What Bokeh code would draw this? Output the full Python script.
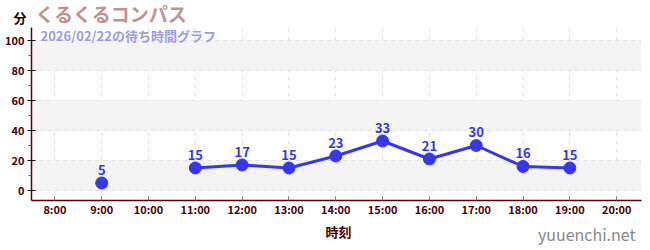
import math
from bokeh.plotting import figure
from bokeh.layouts import column
from bokeh.models import ColumnDataSource, Label, LabelSet, FixedTicker, Range1d, Grid
from bokeh.core.properties import value
from bokeh.embed import file_html
from bokeh.resources import INLINE

title_text = "くるくるコンパス"
subtitle_text = "2026/02/22の待ち時間グラフ"
y_unit = "分"
x_label = "時刻"
watermark = "yuuenchi.net"

hours = [9, 10, 11, 12, 13, 14, 15, 16, 17, 18, 19]
waits = [5, float("nan"), 15, 17, 15, 23, 33, 21, 30, 16, 15]
x_ticks = list(range(8, 21))
x_tick_labels = {h: f"{h}:00" for h in x_ticks}
y_ticks = [0, 20, 40, 60, 80, 100]
y_minor = [10, 30, 50, 70, 90]
band_edges = [20, 40, 60, 80]

FONT = "Noto Sans CJK JP"
AXIS = "#5a0000"
BLUE = "#3535f5"
W = 650
LEFT, RIGHT = 31, 9
TOP_H, MAIN_H, BOT_H = 27, 196, 27


def strip(h):
    f = figure(width=W, height=h, output_backend="svg", toolbar_location=None,
               x_axis_type=None, y_axis_type=None, x_range=Range1d(0, 1), y_range=Range1d(0, 1),
               min_border_left=LEFT, min_border_right=RIGHT, min_border_top=0, min_border_bottom=0)
    f.outline_line_color = None
    f.xgrid.visible = False
    f.ygrid.visible = False
    f.background_fill_color = "white"
    f.border_fill_color = "white"
    return f


def lab(f, text, x, y, size, color, align="left", bold=True, side=None):
    l = Label(x=x, y=y, x_units="screen", y_units="screen", text=text,
              text_font=FONT, text_font_style="bold" if bold else "normal",
              text_font_size=size, text_color=color, text_align=align,
              text_baseline="middle")
    if side:
        f.add_layout(l, side)
    else:
        f.add_layout(l)


# ---- top strip (title, unit) ; frame spans x 31..641 ----
top = strip(TOP_H)
lab(top, title_text, 35 - LEFT, TOP_H - 13, "19px", "#c49090")
lab(top, y_unit, 8, TOP_H - 17, "13px", "#2a0000", align="right", side="left")

# ---- main chart ----
p = figure(width=W, height=MAIN_H, output_backend="svg", toolbar_location=None,
           x_range=Range1d(7.5, 20.53), y_range=Range1d(-6.67, 108.67),
           min_border_left=LEFT, min_border_right=RIGHT, min_border_top=0, min_border_bottom=23)
p.outline_line_color = None
p.background_fill_color = "white"
p.border_fill_color = "white"

band = Grid(dimension=1, ticker=FixedTicker(ticks=band_edges), grid_line_color=None,
            band_fill_color="#f4f4f4", band_fill_alpha=1.0)
p.add_layout(band)

p.xgrid.ticker = FixedTicker(ticks=x_ticks)
p.ygrid.ticker = FixedTicker(ticks=y_ticks)
for g in (p.xgrid, p.ygrid):
    g.grid_line_color = "#e2e2e2"
    g.grid_line_dash = "4 4"
    g.grid_line_width = 1

ya = p.yaxis[0]
ya.ticker = FixedTicker(ticks=y_ticks, minor_ticks=y_minor)
ya.axis_line_color = AXIS
ya.axis_line_width = 1.5
ya.major_tick_line_color = "#111111"
ya.major_tick_in = 4
ya.major_tick_out = 4
ya.minor_tick_line_color = "#dd2222"
ya.minor_tick_in = 0
ya.minor_tick_out = 3
ya.major_label_text_font = FONT
ya.major_label_text_font_style = "bold"
ya.major_label_text_font_size = "11px"
ya.major_label_text_color = "#4a0000"
ya.major_label_standoff = 3

xa = p.xaxis[0]
xa.ticker = FixedTicker(ticks=x_ticks)
xa.major_label_overrides = x_tick_labels
xa.axis_line_color = AXIS
xa.axis_line_width = 1.5
xa.major_tick_line_color = "#777777"
xa.major_tick_in = 4
xa.major_tick_out = 0
xa.minor_tick_line_color = None
xa.major_label_text_font = FONT
xa.major_label_text_font_style = "bold"
xa.major_label_text_font_size = "11px"
xa.major_label_text_color = "#4a0000"
xa.major_label_standoff = 0

src = ColumnDataSource(dict(x=hours, y=waits))
pts = ColumnDataSource(dict(x=[h for h, v in zip(hours, waits) if not math.isnan(v)],
                            y=[v for v in waits if not math.isnan(v)],
                            t=[str(int(v)) for v in waits if not math.isnan(v)]))

p.line("x", "y", source=src, line_color=BLUE, line_width=3)
p.scatter("x", "y", source=pts, size=12, fill_color=BLUE, line_color=BLUE)
p.add_layout(LabelSet(x="x", y="y", text="t", source=pts, y_offset=8, text_align="center",
                      text_baseline="bottom", text_font=value(FONT), text_font_style="bold",
                      text_font_size="13px", text_color=BLUE))

# subtitle inside the frame (frame 173 px tall, starting at canvas y=27)
lab(p, subtitle_text, 40 - LEFT, 173 - 8, "13px", "#9b9bef")

# ---- bottom strip (axis title, watermark) ; starts at canvas y=223 ----
bot = strip(BOT_H)
lab(bot, x_label, 338 - LEFT, 250 - 231, "13px", "#4a0000", align="center")
lab(bot, watermark, 635 - LEFT, 250 - 233, "16px", "#8a8a8a", align="right", bold=False)

layout = column(top, p, bot, spacing=0)
open("out.html", "w").write(file_html(layout, INLINE))
